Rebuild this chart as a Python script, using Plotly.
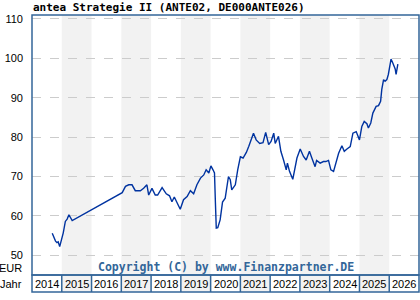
import plotly.graph_objects as go

# ---- data ----
time_years = [
    2014.68, 2014.74, 2014.79, 2014.84, 2014.88, 2014.93, 2015.00, 2015.05, 2015.12, 2015.18, 2015.24,
    2015.29, 2015.35,
    2017.03, 2017.14, 2017.25, 2017.36, 2017.47, 2017.64, 2017.75, 2017.86, 2017.92, 2018.03,
    2018.14, 2018.22, 2018.37, 2018.51, 2018.62, 2018.70, 2018.78, 2018.89, 2018.98, 2019.09,
    2019.21, 2019.32, 2019.43, 2019.54, 2019.66, 2019.77, 2019.85, 2019.94, 2020.01, 2020.08,
    2020.13, 2020.16, 2020.19, 2020.24, 2020.32, 2020.40, 2020.49, 2020.60, 2020.66, 2020.71,
    2020.83, 2020.91, 2021.00, 2021.09, 2021.20, 2021.28, 2021.36, 2021.44, 2021.53, 2021.65,
    2021.76, 2021.85, 2021.95, 2022.03, 2022.12, 2022.17, 2022.28, 2022.36, 2022.45, 2022.54,
    2022.58, 2022.65, 2022.76, 2022.84, 2022.90, 2023.01, 2023.12, 2023.21, 2023.32, 2023.40,
    2023.51, 2023.56, 2023.68, 2023.79, 2023.87, 2023.96, 2024.04, 2024.13, 2024.22, 2024.30,
    2024.41, 2024.49, 2024.58, 2024.69, 2024.78, 2024.89, 2025.00, 2025.08, 2025.16, 2025.25,
    2025.30, 2025.38, 2025.45, 2025.56, 2025.64, 2025.71, 2025.75, 2025.81, 2025.86, 2025.92,
    2025.97, 2026.03, 2026.06, 2026.12, 2026.20, 2026.23, 2026.27, 2026.29,
]
price_eur = [
    55.6, 54.3, 53.6, 53.2, 53.4, 52.2, 54.0, 55.7, 58.6, 59.2, 60.3,
    59.5, 58.8,
    65.9, 67.5, 67.9, 67.9, 66.4, 66.4, 67.0, 67.9, 65.3, 67.0,
    65.3, 65.3, 67.2, 65.6, 65.1, 63.6, 64.8, 63.2, 61.7, 64.1,
    64.9, 66.4, 65.6, 67.9, 69.6, 70.4, 71.7, 70.9, 72.7, 71.7,
    70.9, 63.6, 56.9, 57.0, 59.0, 63.5, 64.5, 70.0, 69.2, 66.6,
    67.9, 71.7, 75.0, 74.7, 76.1, 77.6, 79.3, 81.0, 79.3, 78.4,
    78.6, 81.2, 78.1, 78.9, 81.0, 78.4, 80.2, 76.4, 74.2, 71.7,
    73.4, 71.3, 69.3, 72.5, 74.7, 77.0, 75.1, 74.2, 76.4, 74.7,
    72.5, 74.1, 73.4, 73.8, 73.8, 74.1, 71.7, 71.3, 73.8, 75.9,
    77.8, 76.4, 77.0, 77.6, 81.0, 81.4, 79.3, 82.7, 84.0, 83.4,
    82.3, 83.6, 86.1, 87.8, 88.0, 89.1, 92.1, 94.6, 94.2, 94.6,
    95.9, 99.0, 99.8, 98.8, 97.3, 95.9, 97.3, 98.5,
]
years = [2014, 2015, 2016, 2017, 2018, 2019, 2020, 2021, 2022, 2023, 2024, 2025, 2026]
y_ticks = [50, 60, 70, 80, 90, 100, 110]
title_text = "antea Strategie II (ANTE02, DE000ANTE026)"
copyright_text = "Copyright (C) by www.Finanzpartner.DE"

FRAME = "#336699"
LINE = "#0033a0"
BAND = "#f2f2f2"
CELL_BOTTOM = -17 / 260  # label row below plot, in paper units

fig = go.Figure()
fig.add_trace(go.Scatter(x=time_years, y=price_eur, mode="lines",
                         line=dict(color=LINE, width=1.4), hoverinfo="skip"))

shapes = []
# alternating year bands (plot + label row)
for i, yr in enumerate(years):
    if i % 2 == 1:
        shapes.append(dict(type="rect", xref="x", yref="paper", x0=yr, x1=yr + 1,
                           y0=CELL_BOTTOM, y1=1, fillcolor=BAND, line=dict(width=0), layer="below"))
# frame of plot
shapes.append(dict(type="rect", xref="paper", yref="paper", x0=0, x1=1, y0=0, y1=1,
                   line=dict(color=FRAME, width=1.5), fillcolor="rgba(0,0,0,0)"))
# label row frame
shapes.append(dict(type="rect", xref="paper", yref="paper", x0=0, x1=1, y0=CELL_BOTTOM, y1=0,
                   line=dict(color=FRAME, width=1.5), fillcolor="rgba(0,0,0,0)"))
for yr in years[1:]:
    shapes.append(dict(type="line", xref="x", yref="paper", x0=yr, x1=yr, y0=CELL_BOTTOM, y1=0,
                       line=dict(color=FRAME, width=1.5)))

annotations = []
for yr in years:
    annotations.append(dict(x=yr + 0.5, y=CELL_BOTTOM / 2, xref="x", yref="paper", text=str(yr),
                            showarrow=False, font=dict(family="Liberation Sans", size=11, color="#000"),
                            xanchor="center", yanchor="middle"))
annotations.append(dict(x=0, xshift=-8, xanchor="right", y=46.9, yanchor="middle",
                        xref="paper", yref="y", text="EUR", showarrow=False,
                        font=dict(family="Liberation Sans", size=11, color="#000")))
annotations.append(dict(x=0, xshift=-8, xanchor="right", y=CELL_BOTTOM / 2, yanchor="middle",
                        xref="paper", yref="paper", text="Jahr", showarrow=False,
                        font=dict(family="Liberation Sans", size=11, color="#000")))
annotations.append(dict(x=0.5, xref="paper", y=47.0, yref="y", text="<b>" + copyright_text + "</b>",
                        showarrow=False, xanchor="center", yanchor="middle",
                        font=dict(family="DejaVu Sans Mono", size=11.5, color=FRAME)))
annotations.append(dict(x=0, xref="paper", y=1, yref="paper", yshift=8, borderpad=0,
                        text="<b>" + title_text + "</b>",
                        showarrow=False, xanchor="left", yanchor="middle",
                        font=dict(family="DejaVu Sans Mono", size=11, color="#000")))

fig.update_layout(
    width=420, height=300,
    margin=dict(l=32, r=1, t=15, b=25),
    paper_bgcolor="white", plot_bgcolor="white",
    showlegend=False,
    shapes=shapes, annotations=annotations,
    xaxis=dict(range=[2014, 2027], showgrid=False, zeroline=False, showticklabels=False,
               ticks="", fixedrange=True),
    yaxis=dict(range=[45, 111], tickvals=y_ticks, ticks="", ticklabelstandoff=8,
               tickfont=dict(family="Liberation Sans", size=11, color="#000"),
               showgrid=True, gridcolor="#cccccc", griddash="dash", gridwidth=1,
               zeroline=False, fixedrange=True),
)

fig.write_html("out.html")
